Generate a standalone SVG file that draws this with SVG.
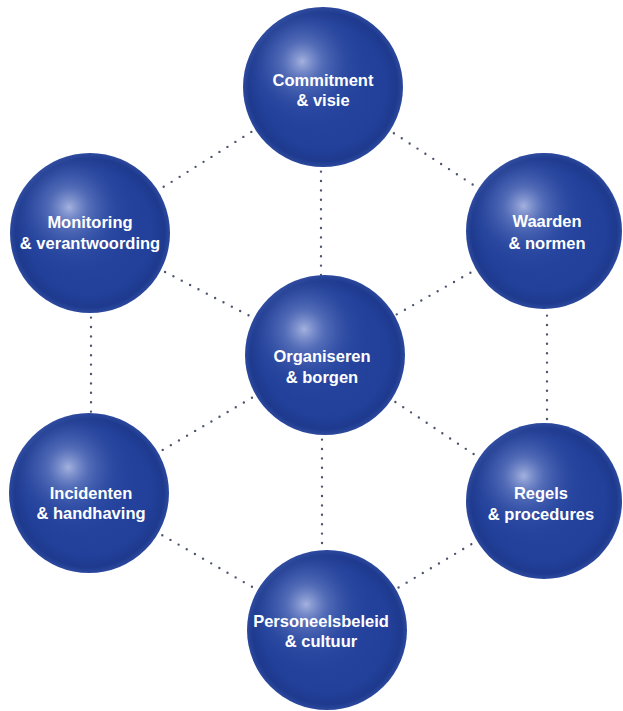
<svg xmlns="http://www.w3.org/2000/svg" width="623" height="711" viewBox="0 0 623 711">
  <style>
    .conn { stroke: #4d566e; stroke-width: 2.4; stroke-linecap: round; stroke-dasharray: 0 9.4; fill: none; }
    .ball { fill: url(#base); }
    .hl { fill: url(#shine); }
    .lbl { font-family: "Liberation Sans", Arial, sans-serif; font-weight: bold; font-size: 16.5px; fill: #ffffff; text-anchor: middle; }
  </style>
  <defs>
    <radialGradient id="base" cx="0.5" cy="0.5" r="0.5">
      <stop offset="0" stop-color="#2746a0"/>
      <stop offset="0.78" stop-color="#22409a"/>
      <stop offset="0.93" stop-color="#1e3a8e"/>
      <stop offset="1" stop-color="#2c499e"/>
    </radialGradient>
    <radialGradient id="shine" cx="0.37" cy="0.34" r="0.42">
      <stop offset="0" stop-color="#c4cdef" stop-opacity="0.8"/>
      <stop offset="0.3" stop-color="#8c9fd8" stop-opacity="0.45"/>
      <stop offset="0.7" stop-color="#4b66b6" stop-opacity="0.15"/>
      <stop offset="1" stop-color="#2746a0" stop-opacity="0"/>
    </radialGradient>
  </defs>
  <rect width="623" height="711" fill="#ffffff"/>
  <g id="connectors">
    <line class="conn" x1="323" y1="87" x2="90" y2="233"/>
    <line class="conn" x1="323" y1="87" x2="544" y2="231"/>
    <line class="conn" x1="321" y1="87" x2="321" y2="355"/>
    <line class="conn" x1="90" y1="233" x2="325" y2="355"/>
    <line class="conn" x1="544" y1="231" x2="325" y2="355"/>
    <line class="conn" x1="91" y1="233" x2="91" y2="493"/>
    <line class="conn" x1="547" y1="231" x2="547" y2="501"/>
    <line class="conn" x1="325" y1="355" x2="89" y2="493"/>
    <line class="conn" x1="325" y1="355" x2="544" y2="501"/>
    <line class="conn" x1="322" y1="355" x2="322" y2="630"/>
    <line class="conn" x1="89" y1="493" x2="327" y2="630"/>
    <line class="conn" x1="544" y1="501" x2="327" y2="630"/>
  </g>
  <g id="commitment">
    <circle class="ball" cx="323" cy="87" r="80"/>
    <circle class="hl" cx="323" cy="87" r="80"/>
    <text class="lbl" x="323" y="86">Commitment</text>
    <text class="lbl" x="323" y="106">&amp; visie</text>
  </g>
  <g id="monitoring">
    <circle class="ball" cx="90" cy="233" r="80"/>
    <circle class="hl" cx="90" cy="233" r="80"/>
    <text class="lbl" x="90" y="228">Monitoring</text>
    <text class="lbl" x="90" y="249">&amp; verantwoording</text>
  </g>
  <g id="waarden">
    <circle class="ball" cx="544" cy="231" r="78"/>
    <circle class="hl" cx="544" cy="231" r="78"/>
    <text class="lbl" x="547" y="227">Waarden</text>
    <text class="lbl" x="547" y="249">&amp; normen</text>
  </g>
  <g id="organiseren">
    <circle class="ball" cx="325" cy="355" r="80"/>
    <circle class="hl" cx="325" cy="355" r="80"/>
    <text class="lbl" x="322" y="362">Organiseren</text>
    <text class="lbl" x="322" y="383">&amp; borgen</text>
  </g>
  <g id="incidenten">
    <circle class="ball" cx="89" cy="493" r="80"/>
    <circle class="hl" cx="89" cy="493" r="80"/>
    <text class="lbl" x="91" y="499">Incidenten</text>
    <text class="lbl" x="91" y="519">&amp; handhaving</text>
  </g>
  <g id="regels">
    <circle class="ball" cx="544" cy="501" r="78"/>
    <circle class="hl" cx="544" cy="501" r="78"/>
    <text class="lbl" x="541" y="499">Regels</text>
    <text class="lbl" x="541" y="520">&amp; procedures</text>
  </g>
  <g id="personeelsbeleid">
    <circle class="ball" cx="327" cy="630" r="80"/>
    <circle class="hl" cx="327" cy="630" r="80"/>
    <text class="lbl" x="321" y="627">Personeelsbeleid</text>
    <text class="lbl" x="321" y="647">&amp; cultuur</text>
  </g>
</svg>
